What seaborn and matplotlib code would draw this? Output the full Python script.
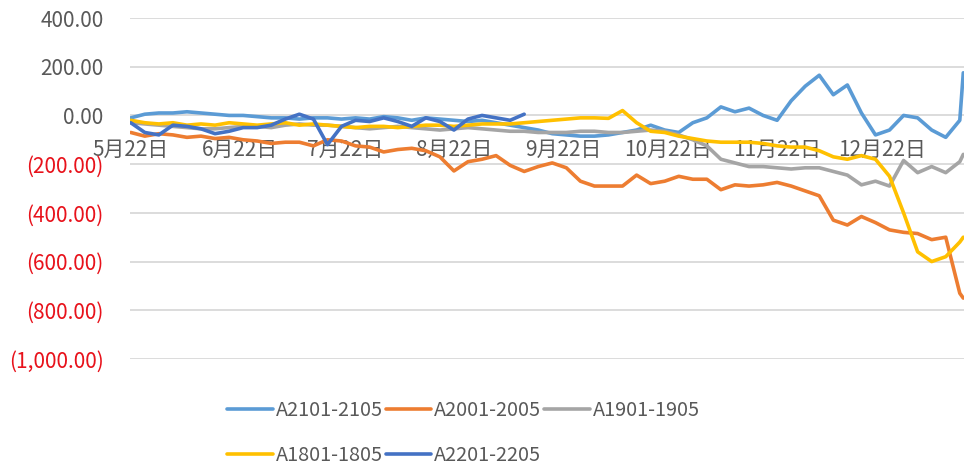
import numpy as np
import pandas as pd
from matplotlib import pyplot as plt
import seaborn as sns

# day offsets from 2020-05-22, sampled every 4 days, last point on the right edge
days = list(range(0, 237, 4)) + [237]

a2101 = [-10, 5, 10, 10, 15, 10, 5, 0, 0, -5, -10, -10, -15, -10, -10, -15, -10, -15, -5, -10,
         -20, -10, -15, -20, -25, -20, -30, -40, -50, -60, -75, -80, -85, -85, -80, -70, -60, -40, -60, -70,
         -30, -10, 35, 15, 30, 0, -20, 60, 120, 165, 85, 125, 10, -80, -60, 0, -10, -60, -90, -20, 175]
a2001 = [-70, -85, -75, -80, -90, -85, -95, -90, -100, -105, -115, -110, -110, -125, -100, -105, -125, -130, -150, -140,
         -135, -145, -170, -228, -190, -180, -165, -205, -230, -210, -195, -215, -270, -290, -290, -290, -245, -280, -270, -250,
         -262, -262, -305, -285, -290, -285, -275, -290, -310, -330, -430, -450, -415, -440, -470, -480, -485, -510, -500, -730, -750]
a1901 = [-30, -35, -40, -45, -50, -55, -55, -50, -45, -45, -50, -40, -35, -40, -40, -45, -50, -55, -50, -45,
         -50, -55, -60, -55, -50, -55, -60, -65, -65, -70, -70, -70, -65, -65, -70, -70, -65, -60, -65, -80,
         -100, -125, -180, -195, -210, -210, -215, -220, -215, -215, -230, -245, -285, -270, -290, -185, -235, -210, -235, -190, -160]
a1801 = [-20, -30, -35, -30, -40, -35, -40, -30, -35, -40, -35, -30, -40, -35, -40, -45, -50, -45, -45, -50,
         -45, -40, -40, -45, -40, -35, -35, -35, -30, -25, -20, -15, -10, -10, -12, 20, -30, -65, -70, -85,
         -95, -105, -110, -110, -110, -115, -125, -130, -130, -145, -170, -180, -165, -180, -250, -400, -560, -600, -580, -520, -500]
a2201 = [-30, -70, -80, -40, -45, -55, -75, -65, -50, -50, -40, -15, 5, -15, -120, -45, -20, -25, -10, -25,
         -45, -10, -25, -60, -15, 0, -10, -20, 5]

names = ["A2101-2105", "A2001-2005", "A1901-1905", "A1801-1805", "A2201-2205"]
colors = ["#5B9BD5", "#ED7D31", "#A5A5A5", "#FFC000", "#4472C4"]
series = [a2101, a2001, a1901, a1801, a2201]

start = pd.Timestamp("2020-05-22")
tick_months = [5, 6, 7, 8, 9, 10, 11, 12]
yticks = [400, 200, 0, -200, -400, -600, -800, -1000]

sns.set_theme(style="white")
plt.rcParams["font.family"] = ["Noto Sans CJK SC", "DejaVu Sans"]

fig = plt.figure(figsize=(9.64, 4.70), dpi=100)
ax = fig.add_axes([0.1349, 0.2362, 0.8651, 0.7255])

for name, vals, col in zip(names, series, colors):
    dates = [start + pd.Timedelta(days=d) for d in days[:len(vals)]]
    sns.lineplot(x=dates, y=vals, color=col, linewidth=2.6, label=name, ax=ax)

ax.set_ylim(-1000, 400)
ax.set_yticks(yticks)
ax.set_xlim(start - pd.Timedelta(days=0.2), start + pd.Timedelta(days=237.2))
ax.grid(axis="y", color="#D9D9D9", linewidth=1.3)
ax.set_axisbelow(True)
for s in ax.spines.values():
    s.set_visible(False)
ax.spines["bottom"].set_position(("data", 0))

xt = [pd.Timestamp(2020, m, 22) for m in tick_months]
ax.set_xticks(xt)
ax.set_xticklabels([f"{m}月22日" for m in tick_months])
ax.tick_params(axis="x", length=0, pad=17, labelsize=15, labelcolor="#595959")
ax.tick_params(axis="y", length=0, pad=19, labelsize=15)

ylabels = []
for v in yticks:
    if v < 0:
        ylabels.append("({:,.2f})".format(-v))
    else:
        ylabels.append("{:,.2f}".format(v))
ax.set_yticklabels(ylabels)
for lab, v in zip(ax.get_yticklabels(), yticks):
    lab.set_color("#E8121B" if v < 0 else "#595959")

ax.set_xlabel("")
ax.set_ylabel("")

handles, labels = ax.get_legend_handles_labels()
ax.get_legend().remove()
order = [0, 3, 1, 4, 2]
fig.legend([handles[i] for i in order], [labels[i] for i in order],
           loc="upper left", bbox_to_anchor=(0.217, 0.187), ncol=3, frameon=False,
           fontsize=14.3, handlelength=2.3, handletextpad=0.15, columnspacing=0.15,
           labelspacing=1.2, labelcolor="#595959")

fig.savefig("out.png", dpi=100)
